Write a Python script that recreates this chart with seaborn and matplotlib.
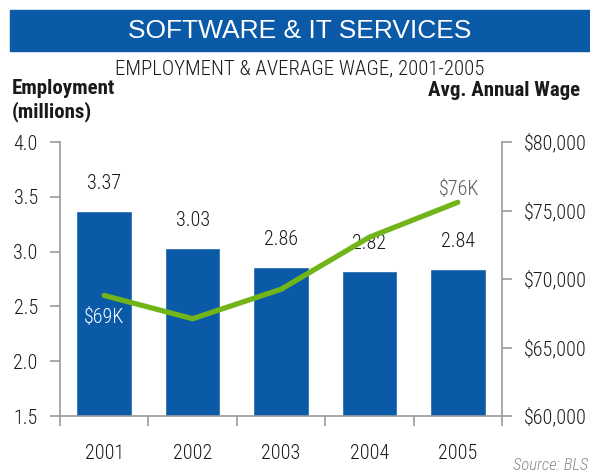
import matplotlib
matplotlib.use("Agg")
import matplotlib.pyplot as plt
from matplotlib.patches import Rectangle
from matplotlib.ticker import FuncFormatter, FixedLocator
import seaborn as sns
import pandas as pd

years = ["2001", "2002", "2003", "2004", "2005"]
employment = [3.37, 3.03, 2.86, 2.82, 2.84]
avg_wage = [68800, 67100, 69250, 73050, 75600]
left_ticks = [1.5, 2.0, 2.5, 3.0, 3.5, 4.0]
right_ticks = [60000, 65000, 70000, 75000, 80000]

BLUE = "#0b5aa7"
GREEN = "#72b51a"
SPINE = "#9a9a9a"
TEXT = "#1a1a1a"
NUM = 14.5

sns.set_theme(style="white")
plt.rcParams["font.family"] = ["Roboto Condensed", "DejaVu Sans"]
plt.rcParams["font.weight"] = "light"

df = pd.DataFrame({"year": years, "employment": employment, "wage": avg_wage})

fig = plt.figure(figsize=(5.9, 4.72), dpi=100)
ax = fig.add_axes([60 / 590, 1 - 416 / 472, 442 / 590, 274 / 472])

sns.barplot(data=df, x="year", y="employment", color=BLUE, saturation=1,
            width=0.63, ax=ax)
ax.bar_label(ax.containers[0], labels=[f"{v:.2f}" for v in employment],
             padding=13, fontsize=NUM, color=TEXT)

ax.set_ylim(1.5, 4.0)
ax.set_xlim(-0.5, 4.5)
ax.set_yticks(left_ticks)
ax.yaxis.set_major_formatter(FuncFormatter(lambda v, _: f"{v:.1f}"))
ax.set_xlabel("")
ax.set_ylabel("")

# category boundaries carry the tick marks, year labels sit between them
ax.xaxis.set_major_locator(FixedLocator([i - 0.5 for i in range(len(years) + 1)]))
ax.xaxis.set_major_formatter(FuncFormatter(lambda v, _: ""))
ax.set_xticks(range(len(years)), labels=years, minor=True)
ax.tick_params(axis="x", which="major", direction="out", length=7, width=1.2,
               color=SPINE, bottom=True)
ax.tick_params(axis="x", which="minor", length=0, pad=20, labelsize=NUM,
               labelcolor=TEXT)
ax.tick_params(axis="y", direction="out", length=7, width=1.2, color=SPINE,
               left=True, pad=9, labelsize=NUM, labelcolor=TEXT)

for side in ["top", "right"]:
    ax.spines[side].set_visible(False)
for side in ["left", "bottom"]:
    ax.spines[side].set_color(SPINE)
    ax.spines[side].set_linewidth(1.2)

ax2 = ax.twinx()
ax2.plot(range(len(years)), df["wage"], color=GREEN, linewidth=3.8,
         solid_capstyle="round", zorder=5)
ax2.set_ylim(60000, 80000)
ax2.set_yticks(right_ticks)
ax2.yaxis.set_major_formatter(FuncFormatter(lambda v, _: f"${v:,.0f}"))
ax2.tick_params(axis="y", direction="out", length=7, width=1.2, color=SPINE,
                right=True, pad=9, labelsize=NUM, labelcolor=TEXT)
for side in ["top", "left", "bottom"]:
    ax2.spines[side].set_visible(False)
ax2.spines["right"].set_color(SPINE)
ax2.spines["right"].set_linewidth(1.2)
ax2.grid(False)
ax.grid(False)

ax2.annotate(f"${avg_wage[0] / 1000:.0f}K", (0, avg_wage[0]),
             xytext=(0, -16), textcoords="offset points", ha="center",
             va="center", color="white", fontsize=NUM)
ax2.annotate(f"${avg_wage[-1] / 1000:.0f}K", (4, avg_wage[-1]),
             xytext=(1, 9), textcoords="offset points", ha="center",
             va="center", color="#5a5a5a", fontsize=NUM)

# header banner and axis captions
fig.patches.append(Rectangle((10 / 590, 1 - 51 / 472), 580 / 590, 41 / 472,
                             transform=fig.transFigure, color=BLUE, zorder=0))
fig.text(300 / 590, 1 - 31 / 472, "SOFTWARE & IT SERVICES", ha="center",
         va="center", color="white", fontsize=19, fontweight="normal",
         family=["Liberation Sans", "DejaVu Sans"])
fig.text(300 / 590, 1 - 69 / 472, "EMPLOYMENT & AVERAGE WAGE, 2001-2005",
         ha="center", va="center", color=TEXT, fontsize=15)
fig.text(12 / 590, 1 - 79 / 472, "Employment\n(millions)", ha="left",
         va="top", color=TEXT, fontsize=15, fontweight="bold",
         linespacing=1.2)
fig.text(580 / 590, 1 - 91 / 472, "Avg. Annual Wage", ha="right",
         va="center", color=TEXT, fontsize=15, fontweight="bold")
fig.text(588 / 590, 1 - 465 / 472, "Source: BLS", ha="right", va="center",
         color="#8a8a8a", fontsize=12, style="italic")

fig.savefig("out.png", dpi=100)
